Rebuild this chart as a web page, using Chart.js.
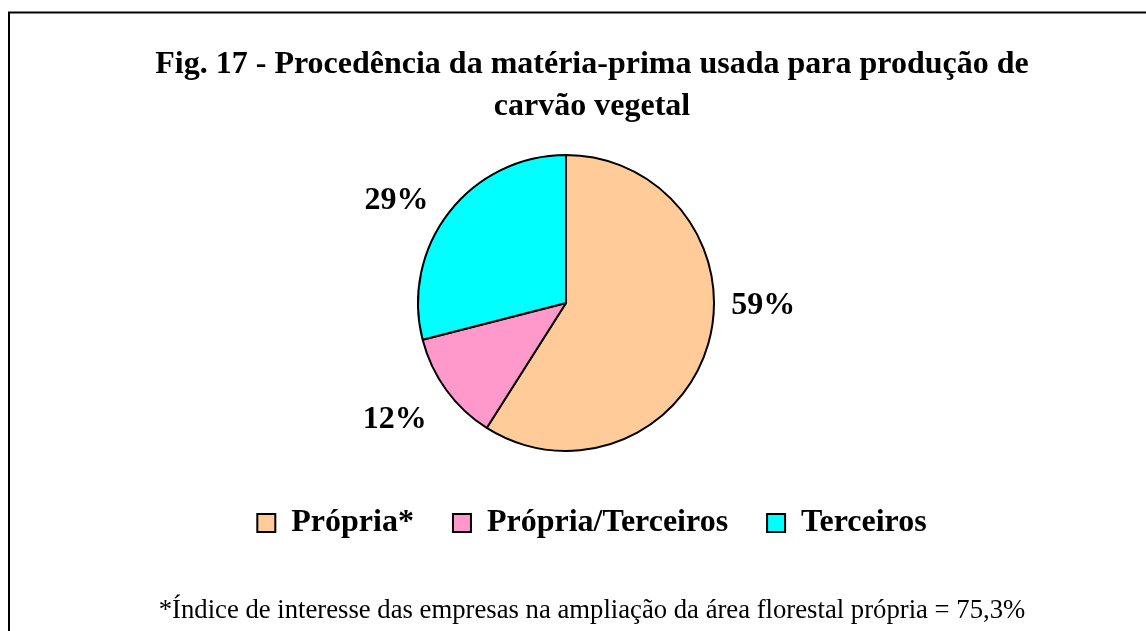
<!DOCTYPE html>
<html>
<head>
<meta charset="utf-8">
<script src="https://cdn.jsdelivr.net/npm/chart.js@4/dist/chart.umd.min.js"></script>
<style>
  html, body { margin: 0; padding: 0; overflow: hidden; background: #fff; }
  #wrap { position: relative; width: 1184px; height: 631px; }
</style>
</head>
<body>
<div id="wrap"><canvas id="c" width="1184" height="631"></canvas></div>
<script>
// ---- data ----
const categories = ['Própria*', 'Própria/Terceiros', 'Terceiros'];
const shares = [59, 12, 29];
const sliceColors = ['#FFCC99', '#FF99CC', '#00FFFF'];
const titleLines = ['Fig. 17 - Procedência da matéria-prima usada para produção de', 'carvão vegetal'];
const footnote = '*Índice de interesse das empresas na ampliação da área florestal própria = 75,3%';

const FONT = '"Liberation Serif", "Times New Roman", serif';
Chart.defaults.color = '#000';

function makeSpacer(position, size, weight) {
  return {
    position: position, weight: weight, fullSize: false, options: {},
    isHorizontal() { return position === 'top' || position === 'bottom'; },
    update(maxWidth, maxHeight) {
      if (this.isHorizontal()) { this.width = maxWidth; this.height = size; }
      else { this.width = size; this.height = maxHeight; }
    },
    draw() {}
  };
}

const spacerPlugin = {
  id: 'spacers',
  beforeInit(chart) {
    Chart.layouts.addBox(chart, makeSpacer('right', 52, 0));
    Chart.layouts.addBox(chart, makeSpacer('bottom', 16, 500));
  }
};

const framePlugin = {
  id: 'frame',
  beforeDraw(chart) {
    const ctx = chart.ctx;
    ctx.save();
    ctx.strokeStyle = '#000';
    ctx.lineWidth = 2;
    ctx.strokeRect(9, 12.5, chart.width - 18, chart.height + 20);
    ctx.restore();
  }
};

const pctLabelPlugin = {
  id: 'pctLabels',
  afterDatasetsDraw(chart, args, opts) {
    const ctx = chart.ctx;
    const meta = chart.getDatasetMeta(0);
    const data = chart.data.datasets[0].data;
    ctx.save();
    ctx.font = 'bold 32px ' + FONT;
    ctx.fillStyle = '#000';
    ctx.textAlign = 'center';
    ctx.textBaseline = 'middle';
    meta.data.forEach((arc, i) => {
      const p = arc.getProps(['x', 'y', 'startAngle', 'endAngle', 'outerRadius'], true);
      const mid = (p.startAngle + p.endAngle) / 2;
      const r = p.outerRadius + opts.distance;
      const n = opts.nudge[i] || [0, 0];
      const lx = p.x + Math.cos(mid) * r + n[0];
      const ly = p.y + Math.sin(mid) * r + n[1];
      ctx.fillText(data[i] + '%', lx, ly);
    });
    ctx.restore();
  }
};

new Chart(document.getElementById('c'), {
  type: 'pie',
  data: {
    labels: categories,
    datasets: [{
      data: shares,
      backgroundColor: sliceColors,
      borderColor: '#000',
      borderWidth: 2
    }]
  },
  plugins: [spacerPlugin, framePlugin, pctLabelPlugin],
  options: {
    responsive: false,
    animation: false,
    layout: { padding: { left: 8, right: 8, top: 12, bottom: 0 } },
    plugins: {
      tooltip: { enabled: false },
      title: {
        display: true,
        text: titleLines,
        color: '#000',
        font: { family: FONT, size: 32, weight: 'bold', lineHeight: '42px' },
        padding: { top: 32, bottom: 26 }
      },
      subtitle: {
        display: true,
        position: 'bottom',
        text: footnote,
        color: '#000',
        font: { family: FONT, size: 26.7, weight: 'normal', lineHeight: '31.8px' },
        padding: { top: 46, bottom: 4.2 }
      },
      legend: {
        display: true,
        position: 'bottom',
        labels: {
          color: '#000',
          font: { family: FONT, size: 32, weight: 'bold' },
          boxWidth: 18,
          boxHeight: 18,
          padding: 39
        }
      },
      pctLabels: {
        distance: 50,
        nudge: [[7, -53], [-11, 0], [-13, 19]]
      }
    }
  }
});
</script>
</body>
</html>
